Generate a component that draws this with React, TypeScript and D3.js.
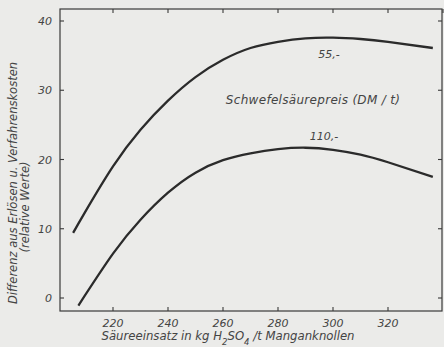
import React from "react";
import * as d3 from "d3";

const xTicks = [220, 240, 260, 280, 300, 320];
const topTicks = [220, 240, 260, 280, 300, 320, 340];
const yTicks = [0, 10, 20, 30, 40];

const upperX = [205.5, 210, 220, 230, 240, 250, 260, 270, 280, 290, 300, 310, 320, 336.3];
const upperY = [9.4, 12.5, 19.0, 24.3, 28.5, 31.9, 34.4, 36.1, 37.0, 37.5, 37.6, 37.4, 37.0, 36.1];
const lowerX = [207.4, 220, 230, 240, 250, 260, 270, 280, 290, 300, 310, 320, 336.3];
const lowerY = [-1.1, 6.4, 11.3, 15.2, 18.1, 19.9, 20.9, 21.5, 21.7, 21.4, 20.7, 19.6, 17.5];

const W = 444;
const H = 347;

export default function App() {
  const left = 60, right = 442, top = 9, bottom = 311;
  const x = d3.scaleLinear().domain([220, 320]).range([113, 388]);
  const y = d3.scaleLinear().domain([0, 40]).range([298, 21]);
  const line = d3
    .line<[number, number]>()
    .x((d) => x(d[0]))
    .y((d) => y(d[1]))
    .curve(d3.curveNatural);
  const up: [number, number][] = upperX.map((v, i) => [v, upperY[i]]);
  const lo: [number, number][] = lowerX.map((v, i) => [v, lowerY[i]]);
  const ink = "#2b2b2b";
  const font = "'DejaVu Sans', sans-serif";
  return (
    <svg
      width={W}
      height={H}
      style={{ position: "absolute", left: 0, top: 0 }}
      fontFamily={font}
      fontStyle="italic"
    >
      <rect x={0} y={0} width={W} height={H} fill="#ebebe9" />
      <rect
        x={left}
        y={top}
        width={right - left}
        height={bottom - top}
        fill="none"
        stroke="#3a3a3a"
        strokeWidth={1.2}
      />
      {xTicks.map((t) => (
        <g key={"b" + t}>
          <line x1={x(t)} x2={x(t)} y1={bottom} y2={bottom - 4} stroke="#3a3a3a" strokeWidth={1.1} />
          <text x={x(t)} y={bottom + 16} textAnchor="middle" fontSize={11} fill="#444">
            {t}
          </text>
        </g>
      ))}
      {topTicks.map((t) => (
        <line key={"t" + t} x1={x(t)} x2={x(t)} y1={top} y2={top + 4} stroke="#3a3a3a" strokeWidth={1.1} />
      ))}
      {yTicks.map((t) => (
        <g key={"y" + t}>
          <line x1={left} x2={left + 4} y1={y(t)} y2={y(t)} stroke="#3a3a3a" strokeWidth={1.1} />
          <line x1={right} x2={right - 4} y1={y(t)} y2={y(t)} stroke="#3a3a3a" strokeWidth={1.1} />
          <text x={left - 8} y={y(t) + 4} textAnchor="end" fontSize={11} fill="#444">
            {t}
          </text>
        </g>
      ))}
      <path d={line(up) || ""} fill="none" stroke={ink} strokeWidth={2.3} />
      <path d={line(lo) || ""} fill="none" stroke={ink} strokeWidth={2.3} />
      <text x={329} y={58} textAnchor="middle" fontSize={11} fill="#444">55,-</text>
      <text x={313} y={104} textAnchor="middle" fontSize={12} letterSpacing={0.3} fill="#444">
        Schwefelsäurepreis (DM / t)
      </text>
      <text x={324} y={140} textAnchor="middle" fontSize={11} fill="#444">110,-</text>
      <text
        transform="translate(17,183) rotate(-90)"
        textAnchor="middle"
        fontSize={11.5}
        fill="#444"
      >
        Differenz aus Erlösen u. Verfahrenskosten
      </text>
      <text
        transform="translate(29,207) rotate(-90)"
        textAnchor="middle"
        fontSize={11.5}
        fill="#444"
      >
        (relative Werte)
      </text>
      <text x={228} y={340} textAnchor="middle" fontSize={11.7} fill="#444">
        Säureeinsatz in kg H<tspan baselineShift="sub" fontSize={8.5}>2</tspan>SO
        <tspan baselineShift="sub" fontSize={8.5}>4</tspan> /t Manganknollen
      </text>
    </svg>
  );
}
